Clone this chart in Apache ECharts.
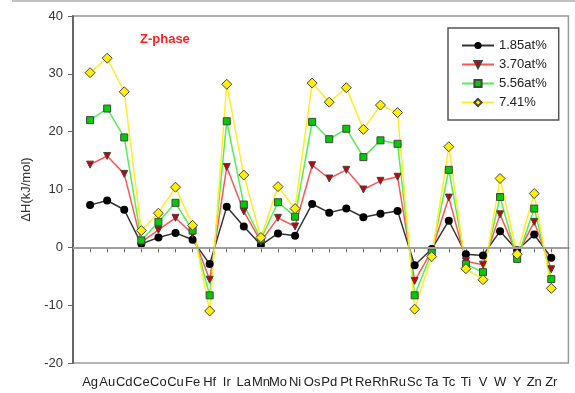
<!DOCTYPE html>
<html>
<head>
<meta charset="utf-8">
<script src="https://cdn.jsdelivr.net/npm/echarts@6/dist/echarts.min.js"></script>
<style>
 html, body { margin: 0; padding: 0; background: #fff; }
 #chart { width: 575px; height: 393px; }
</style>
</head>
<body>
<div id="chart"></div>
<script>
const categories = ['Ag', 'Au', 'Cd', 'Ce', 'Co', 'Cu', 'Fe', 'Hf', 'Ir', 'La', 'Mn', 'Mo', 'Ni', 'Os',
 'Pd', 'Pt', 'Re', 'Rh', 'Ru', 'Sc', 'Ta', 'Tc', 'Ti', 'V', 'W', 'Y', 'Zn', 'Zr']
const seriesNames = ['1.85at%', '3.70at%', '5.56at%', '7.41%']
const at185 = [7.3, 8.1, 6.5, 0.6, 1.7, 2.5, 1.3, -2.9, 7.0, 3.6, 0.4, 2.4, 2.0, 7.5,
 6.0, 6.7, 5.2, 5.8, 6.3, -3.1, -0.3, 4.6, -1.2, -1.4, 2.8, -0.5, 2.2, -1.8]
const at370 = [14.3, 15.8, 12.7, 0.9, 3.0, 5.1, 2.3, -5.6, 13.9, 6.2, 1.0, 5.1, 3.6, 14.2,
 11.9, 13.4, 10.0, 11.5, 12.2, -5.8, -0.6, 8.6, -2.4, -3.0, 5.7, -1.3, 4.4, -3.8]
const at556 = [22.0, 24.0, 19.0, 1.2, 4.4, 7.7, 2.9, -8.3, 21.8, 7.4, 1.4, 7.8, 5.3, 21.7,
 18.7, 20.5, 15.6, 18.5, 17.9, -8.3, -0.9, 13.4, -2.9, -4.3, 8.7, -2.0, 6.7, -5.5]
const at741 = [30.2, 32.7, 26.9, 2.9, 5.9, 10.4, 3.8, -11.0, 28.2, 12.5, 1.7, 10.5, 6.7, 28.4,
 25.1, 27.6, 20.4, 24.6, 23.3, -10.7, -1.6, 17.4, -3.7, -5.6, 11.9, -1.2, 9.3, -7.1]
const yTicks = { min: -20, max: 40, step: 10 }

// blank slot at each end gives the one-category padding of the original axis
const axisCats = [' ', ...categories, '  ']
const toPairs = vals => categories.map((c, i) => [c, vals[i]])

const styles = [
 { line: '#333333', fill: '#000000', symbol: 'circle', size: 8, rotate: 0 },
 { line: '#ff5555', fill: '#cc0000', symbol: 'triangle', size: 7, rotate: 180 },
 { line: '#55ee55', fill: '#00cc00', symbol: 'rect', size: 7, rotate: 0 },
 { line: '#ffee22', fill: '#ffee00', symbol: 'diamond', size: 10, rotate: 0 }
]
const allVals = [at185, at370, at556, at741]

const series = allVals.map((vals, k) => ({
 name: seriesNames[k],
 type: 'line',
 data: toPairs(vals),
 symbol: styles[k].symbol,
 symbolSize: styles[k].size,
 symbolRotate: styles[k].rotate,
 lineStyle: { color: styles[k].line, width: 1.5 },
 itemStyle: {
  color: styles[k].fill,
  borderColor: k === 0 ? '#000' : '#444',
  borderWidth: k === 0 ? 0 : 1
 },
 emphasis: { disabled: true },
 animation: false
}))
series[0].markLine = {
 silent: true,
 symbol: 'none',
 label: { show: false },
 lineStyle: { color: '#a0a0a0', width: 2, type: 'solid' },
 data: [{ yAxis: 0 }]
}

const chart = echarts.init(document.getElementById('chart'))
chart.setOption({
 animation: false,
 textStyle: { fontFamily: 'Liberation Sans, Arial, sans-serif' },
 title: {
  text: 'Z-phase',
  left: 135,
  top: 28,
  textStyle: { color: '#ff2020', fontSize: 13, fontWeight: 'bold' }
 },
 legend: {
  orient: 'vertical',
  left: 448,
  top: 28,
  padding: [11, 12, 11, 13],
  itemGap: 6,
  itemWidth: 32,
  itemHeight: 9,
  borderColor: '#555',
  borderWidth: 1.5,
  borderRadius: 0,
  data: seriesNames,
  textStyle: { fontSize: 13, color: '#222' }
 },
 grid: {
  left: 73, right: 3, top: 16, bottom: 30,
  show: true,
  borderColor: '#999',
  borderWidth: 1.5
 },
 xAxis: {
  type: 'category',
  data: axisCats,
  boundaryGap: false,
  axisLine: { lineStyle: { color: '#666', width: 2 } },
  axisTick: {
   length: 5,
   interval: (i, v) => v.trim() !== '',
   lineStyle: { color: '#666' }
  },
  axisLabel: { interval: 0, margin: 13, fontSize: 13, color: '#222' },
  splitLine: { show: false }
 },
 yAxis: {
  type: 'value',
  min: yTicks.min,
  max: yTicks.max,
  interval: yTicks.step,
  name: 'ΔH(kJ/mol)',
  nameLocation: 'middle',
  nameGap: 38,
  nameTextStyle: { fontSize: 13, color: '#333' },
  axisLine: { show: true, lineStyle: { color: '#666', width: 2 } },
  axisTick: { show: true, length: 5, lineStyle: { color: '#666' } },
  axisLabel: { margin: 10, fontSize: 13, color: '#333' },
  splitLine: { show: false }
 },
 graphic: [{
  type: 'line',
  shape: { x1: 12, y1: 1, x2: 575, y2: 1 },
  style: { stroke: '#c0c0c0', lineWidth: 2 }
 }],
 series: series
})
</script>
</body>
</html>
